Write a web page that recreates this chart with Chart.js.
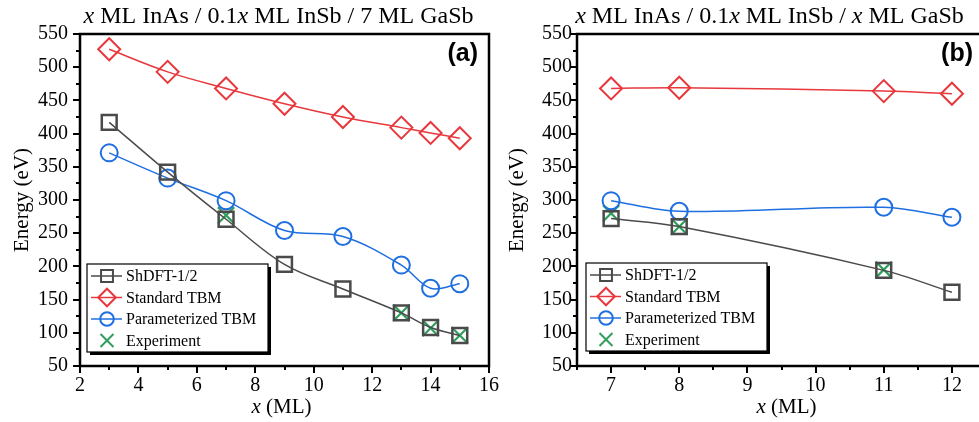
<!DOCTYPE html>
<html>
<head>
<meta charset="utf-8">
<script src="https://cdn.jsdelivr.net/npm/chart.js@4/dist/chart.umd.min.js"></script>
<style>
  html, body { margin: 0; padding: 0; background: #fff; overflow: hidden; }
  #wrap { position: relative; width: 979px; height: 422px; overflow: hidden; }
  .box { position: absolute; top: 0; height: 422px; }
  #boxA { left: 0; width: 500px; }
  #boxB { left: 490px; width: 500px; }
</style>
</head>
<body>
<div id="wrap">
  <div class="box" id="boxA"><canvas id="chartA"></canvas></div>
  <div class="box" id="boxB"><canvas id="chartB"></canvas></div>
</div>
<script>
// panel (a): x ML InAs / 0.1x ML InSb / 7 ML GaSb
const xA = [3, 5, 7, 9, 11, 13, 14, 15];
const shdftA = [417, 342, 271, 203, 166, 130, 108, 96];
const standardA = [527, 493, 468, 445, 425, 409, 401, 393];
const paramA = [371, 333, 299, 254, 245, 202, 167, 174];
const expXA = [7, 13, 14, 15];
const expA = [277, 130, 107, 96];

// panel (b): x ML InAs / 0.1x ML InSb / x ML GaSb
const xB = [7, 8, 11, 12];
const shdftB = [272, 260, 194, 161];
const standardB = [468, 469, 464, 460];
const paramB = [299, 283, 289, 274];
const expXB = [7, 8, 11];
const expB = [280, 260, 195];

const seriesNames = ["ShDFT-1/2", "Standard TBM", "Parameterized TBM", "Experiment"];

const GREY = "#4a4a4a", RED = "#e8383d", BLUE = "#1f6fe0", GREEN = "#2f9e5c";
const SERIF = "'Liberation Serif', 'Times New Roman', serif";

function pts(xs, ys) { return xs.map((x, i) => ({ x, y: ys[i] })); }

function makeDatasets(xs, sh, st, pa, ex, ey) {
    return [
        { label: seriesNames[0], data: pts(xs, sh), borderColor: GREY, pointStyle: "rect", pointRadius: 10.5, pointBorderWidth: 2.5, borderWidth: 1.5, tension: 0.35 },
        { label: seriesNames[1], data: pts(xs, st), borderColor: RED, pointStyle: "rectRot", pointRadius: 11, pointBorderWidth: 2, borderWidth: 1.5, tension: 0.35 },
        { label: seriesNames[2], data: pts(xs, pa), borderColor: BLUE, pointStyle: "circle", pointRadius: 8.5, pointBorderWidth: 2, borderWidth: 1.5, tension: 0.35 },
        { label: seriesNames[3], data: pts(ex, ey), borderColor: GREEN, pointStyle: "crossRot", pointRadius: 11.5, pointBorderWidth: 2.2, showLine: false }
    ].map(d => Object.assign({ backgroundColor: "rgba(0,0,0,0)", pointBackgroundColor: "rgba(0,0,0,0)", pointBorderColor: d.borderColor, fill: false }, d));
}

function drawRich(ctx, parts, cx, cy, size, rotate) {
    ctx.save();
    ctx.translate(cx, cy);
    if (rotate) ctx.rotate(-Math.PI / 2);
    ctx.textBaseline = "middle";
    ctx.textAlign = "left";
    let total = 0;
    parts.forEach(p => { ctx.font = (p[1] ? "italic " : "") + size + "px " + SERIF; total += ctx.measureText(p[0]).width; });
    let x = -total / 2;
    ctx.fillStyle = "#000";
    parts.forEach(p => {
        ctx.font = (p[1] ? "italic " : "") + size + "px " + SERIF;
        ctx.fillText(p[0], x, 0);
        x += ctx.measureText(p[0]).width;
    });
    ctx.restore();
}

function drawMarker(ctx, style, x, y, r) {
    ctx.beginPath();
    if (style === "rect") {
        const s = r * Math.SQRT1_2;
        ctx.rect(x - s, y - s, 2 * s, 2 * s);
    } else if (style === "rectRot") {
        ctx.moveTo(x - r, y); ctx.lineTo(x, y - r); ctx.lineTo(x + r, y); ctx.lineTo(x, y + r); ctx.closePath();
    } else if (style === "circle") {
        ctx.arc(x, y, r, 0, Math.PI * 2);
    } else if (style === "crossRot") {
        const s = r * Math.SQRT1_2;
        ctx.moveTo(x - s, y - s); ctx.lineTo(x + s, y + s);
        ctx.moveTo(x - s, y + s); ctx.lineTo(x + s, y - s);
    }
    ctx.stroke();
}

const decor = {
    id: "decor",
    afterDatasetsDraw(chart, args, opts) {
        const ctx = chart.ctx;
        const a = chart.chartArea;
        const xs = chart.scales.x, ys = chart.scales.y;

        // ticks (outside), major + minor
        ctx.save();
        ctx.strokeStyle = "#000";
        ctx.lineWidth = 2;
        for (let v = ys.min; v <= ys.max + 1e-6; v += opts.yMinor) {
            const py = Math.round(ys.getPixelForValue(v));
            const len = Math.abs(v % opts.yMajor) < 1e-6 ? 7 : 4;
            ctx.beginPath(); ctx.moveTo(a.left, py); ctx.lineTo(a.left - len, py); ctx.stroke();
        }
        const x0 = Math.ceil(xs.min / opts.xMinor) * opts.xMinor;
        for (let v = x0; v <= xs.max + 1e-6; v += opts.xMinor) {
            const px = Math.round(xs.getPixelForValue(v));
            const len = Math.abs(v % opts.xMajor) < 1e-6 ? 7 : 4;
            ctx.beginPath(); ctx.moveTo(px, a.bottom); ctx.lineTo(px, a.bottom + len); ctx.stroke();
        }
        // frame
        ctx.lineWidth = 2.5;
        ctx.strokeRect(a.left, a.top, a.right - a.left, a.bottom - a.top);
        ctx.restore();

        // titles
        const cx = (a.left + a.right) / 2;
        drawRich(ctx, opts.title, cx + opts.titleDx, 17, 24, false);
        drawRich(ctx, [["x", true], [" (ML)", false]], cx + opts.xTitleDx, 407, 21, false);
        drawRich(ctx, [["Energy (eV)", false]], opts.yTitleX, (a.top + a.bottom) / 2, 21, true);

        // panel label
        ctx.save();
        ctx.font = "bold 25px 'Liberation Sans', Arial, sans-serif";
        ctx.textAlign = "right";
        ctx.textBaseline = "middle";
        ctx.fillStyle = "#000";
        ctx.fillText(opts.panel, a.right - opts.panelDx, a.top + 20);
        ctx.restore();

        // legend box with shadow
        const lx = a.left + opts.legendDx, ly = a.bottom - opts.legendUp, lw = 181, lh = 88;
        ctx.save();
        ctx.fillStyle = "#000";
        ctx.fillRect(lx + 3, ly + 3, lw, lh);
        ctx.fillStyle = "#fff";
        ctx.fillRect(lx, ly, lw, lh);
        ctx.strokeStyle = "#000";
        ctx.lineWidth = 1.2;
        ctx.strokeRect(lx, ly, lw, lh);
        chart.data.datasets.forEach((d, i) => {
            const rowY = ly + 12 + i * 21.5;
            const mx = lx + 20;
            ctx.strokeStyle = d.borderColor;
            ctx.lineWidth = 1.5;
            if (d.showLine !== false) {
                ctx.beginPath(); ctx.moveTo(lx + 4, rowY); ctx.lineTo(lx + 35, rowY); ctx.stroke();
            }
            ctx.lineWidth = 2;
            drawMarker(ctx, d.pointStyle, mx, rowY, d.pointRadius * 0.8);
            ctx.fillStyle = "#000";
            ctx.font = "16px " + SERIF;
            ctx.textAlign = "left";
            ctx.textBaseline = "middle";
            ctx.fillText(d.label, lx + 39, rowY + 1);
        });
        ctx.restore();
    }
};

function makeChart(id, datasets, xOpts, yPad, yWidth, rightPad, decorOpts) {
    const tickFont = { family: SERIF, size: 20 };
    return new Chart(document.getElementById(id), {
        type: "line",
        data: { datasets },
        plugins: [decor],
        options: {
            responsive: true,
            maintainAspectRatio: false,
            animation: false,
            layout: { autoPadding: false, padding: { left: 0, top: 34, right: rightPad, bottom: 0 } },
            plugins: { legend: { display: false }, tooltip: { enabled: false }, decor: decorOpts },
            scales: {
                x: {
                    type: "linear",
                    min: xOpts.min, max: xOpts.max,
                    grid: { display: false, drawTicks: false },
                    border: { display: false },
                    ticks: { color: "#000", font: tickFont, padding: 8, maxRotation: 0, autoSkip: false },
                    afterBuildTicks: s => {
                        const t = [];
                        for (let v = Math.ceil(s.min / xOpts.step) * xOpts.step; v <= s.max + 1e-6; v += xOpts.step) t.push({ value: v });
                        s.ticks = t;
                    },
                    afterFit: s => { s.height = 56; s.paddingLeft = 0; s.paddingRight = 0; }
                },
                y: {
                    min: 50, max: 550,
                    grid: { display: false, drawTicks: false },
                    border: { display: false },
                    ticks: { stepSize: 50, color: "#000", font: tickFont, padding: yPad, autoSkip: false },
                    afterFit: s => { s.width = yWidth; s.paddingTop = 0; s.paddingBottom = 0; }
                }
            }
        }
    });
}

makeChart("chartA", makeDatasets(xA, shdftA, standardA, paramA, expXA, expA),
    { min: 2, max: 16, step: 2 },
    12, 80, 11,
    { title: [["x", true], [" ML InAs / 0.1", false], ["x", true], [" ML InSb / 7 ML GaSb", false]],
      titleDx: -6, xTitleDx: -3, yTitleX: 22, panel: "(a)", panelDx: 11, legendDx: 7, legendUp: 102,
      yMajor: 50, yMinor: 25, xMajor: 2, xMinor: 1 });

makeChart("chartB", makeDatasets(xB, shdftB, standardB, paramB, expXB, expB),
    { min: 6.5, max: 12.5, step: 1 },
    5, 87, 4,
    { title: [["x", true], [" ML InAs / 0.1", false], ["x", true], [" ML InSb / ", false], ["x", true], [" ML GaSb", false]],
      titleDx: -12, xTitleDx: 5, yTitleX: 27, panel: "(b)", panelDx: 13, legendDx: 9, legendUp: 103,
      yMajor: 50, yMinor: 25, xMajor: 1, xMinor: 0.5 });
</script>
</body>
</html>
